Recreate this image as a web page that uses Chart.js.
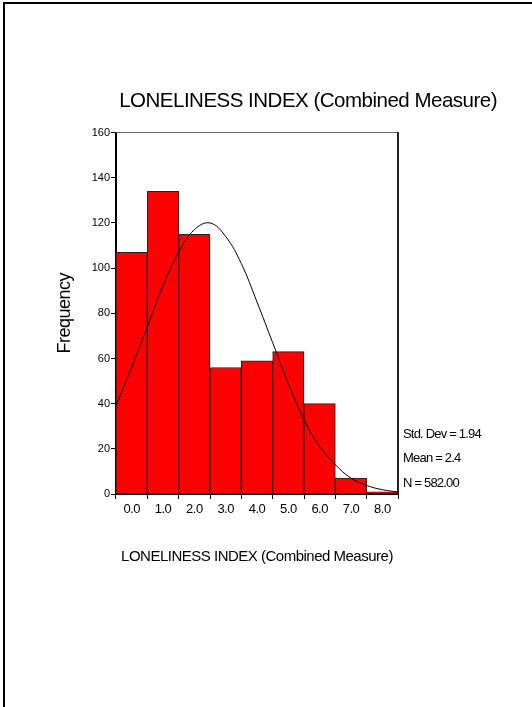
<!DOCTYPE html>
<html>
<head>
<meta charset="utf-8">
<title>LONELINESS INDEX (Combined Measure)</title>
<script src="https://cdn.jsdelivr.net/npm/chart.js@4/dist/chart.umd.min.js"></script>
<style>
  html, body { margin: 0; padding: 0; background: #fff; }
  body { width: 532px; height: 707px; position: relative; overflow: hidden; }
  /* Marco de la página (izquierda y arriba) */
  #marco { position: absolute; left: 3px; top: 2px; right: 0; bottom: 0;
           border-left: 2px solid #000; border-top: 2px solid #000; }
  #grafico { position: absolute; left: 0; top: 0; }
</style>
</head>
<body>
<div id="marco"></div>
<canvas id="grafico" width="532" height="707"></canvas>
<script>
/* ============================
   DATOS
   ============================ */
const categorias = [0, 1, 2, 3, 4, 5, 6, 7, 8];
const frecuencias = [107, 134, 115, 56, 59, 63, 40, 7, 1];

// Curva normal
const curvaX = [-0.5, 0, 0.5, 1, 1.5, 2, 2.5, 3, 3.5, 4, 4.5, 5, 5.5, 6, 6.5, 7, 7.5, 8, 8.5];
const curvaY = [39, 56, 74, 92, 107, 117, 120, 114, 102, 85, 67, 49, 33, 21, 13, 7, 3.8, 1.9, 0.9];

const ticksY = [0, 20, 40, 60, 80, 100, 120, 140, 160];

const titulo = "LONELINESS INDEX (Combined Measure)";
const tituloY = "Frequency";
const estadisticas = ["Std. Dev = 1.94", "Mean = 2.4", "N = 582.00"];

const FUENTE = "'Liberation Sans', Arial, sans-serif";
Chart.defaults.font.family = FUENTE;
Chart.defaults.color = "#000";

/* Espaciado de letras apretado, como en el original */
const pluginEspaciado = {
  id: "espaciado",
  beforeLayout(chart) { chart.ctx.letterSpacing = "-0.5px"; },
  beforeDraw(chart) { chart.ctx.letterSpacing = "-0.5px"; },
  // el eje Y (etiquetas + título) se dibuja después, con espaciado normal
  afterDatasetsDraw(chart) { chart.ctx.letterSpacing = "0px"; }
};

/* Texto de estadísticas a la derecha */
const pluginEstadisticas = {
  id: "estadisticas",
  afterDraw(chart) {
    const ctx = chart.ctx;
    const area = chart.chartArea;
    ctx.save();
    ctx.letterSpacing = "-0.8px";
    ctx.font = "13px " + FUENTE;
    ctx.fillStyle = "#000";
    ctx.textAlign = "left";
    ctx.textBaseline = "middle";
    estadisticas.forEach((t, i) => {
      const y = area.bottom - 11 - (estadisticas.length - 1 - i) * 24.5;
      ctx.fillText(t, area.right + 5, y);
    });
    ctx.restore();
  }
};

/* ============================
   GRÁFICO
   ============================ */
const grafico = new Chart(document.getElementById("grafico"), {
  type: "bar",
  data: {
    datasets: [
      {
        type: "line",
        data: curvaX.map((x, i) => ({ x: x, y: curvaY[i] })),
        borderColor: "#000",
        borderWidth: 1,
        pointRadius: 0,
        tension: 0.4,
        fill: false,
        order: 0
      },
      {
        type: "bar",
        data: categorias.map((c, i) => ({ x: c, y: frecuencias[i] })),
        backgroundColor: "#ff0000",
        borderColor: "#222",
        borderWidth: 1,
        barPercentage: 1,
        categoryPercentage: 1,
        order: 1
      }
    ]
  },
  options: {
    responsive: false,
    animation: false,
    layout: { padding: { left: 40, top: 10, right: 35, bottom: 133 } },
    plugins: {
      legend: { display: false },
      tooltip: { enabled: false },
      title: {
        display: true,
        text: titulo,
        align: "end",
        color: "#000",
        font: { size: 20.5, weight: "normal" },
        padding: { top: 79, bottom: 19 }
      }
    },
    scales: {
      x: {
        type: "linear",
        position: "bottom",
        min: -0.5,
        max: 8.5,
        offset: false,
        afterBuildTicks: s => { s.ticks = categorias.map(v => ({ value: v })); },
        afterFit: s => { s.height = 80; },
        ticks: { callback: v => Number(v).toFixed(1), color: "#000", font: { size: 13 }, padding: 3, maxRotation: 0, autoSkip: false },
        grid: { display: true, drawOnChartArea: false, drawTicks: true, tickLength: 5, color: "#000" },
        border: { display: true, color: "#000", width: 2 },
        title: { display: true, text: titulo, color: "#000", font: { size: 15 }, padding: { top: 0, bottom: 8 } }
      },
      y: {
        type: "linear",
        position: "left",
        min: 0,
        max: 160,
        afterBuildTicks: s => { s.ticks = ticksY.map(v => ({ value: v })); },
        afterFit: s => { s.width = 76; },
        ticks: { color: "#000", font: { size: 11 }, padding: 1, z: 1 },
        grid: { display: true, drawOnChartArea: false, drawTicks: true, tickLength: 5, color: "#000" },
        border: { display: true, color: "#000", width: 2 },
        title: { display: true, text: tituloY, color: "#000", font: { size: 18 }, padding: { top: 14, bottom: 0 } }
      },
      x2: {
        type: "linear",
        position: "top",
        min: -0.5,
        max: 8.5,
        afterFit: s => { s.height = 0; },
        ticks: { display: false },
        grid: { display: false },
        border: { display: true, color: "#666", width: 1 }
      },
      y2: {
        type: "linear",
        position: "right",
        min: 0,
        max: 160,
        afterFit: s => { s.width = 99; },
        ticks: { display: false },
        grid: { display: false },
        border: { display: true, color: "#222", width: 2 }
      }
    }
  },
  plugins: [pluginEspaciado, pluginEstadisticas]
});
</script>
</body>
</html>
